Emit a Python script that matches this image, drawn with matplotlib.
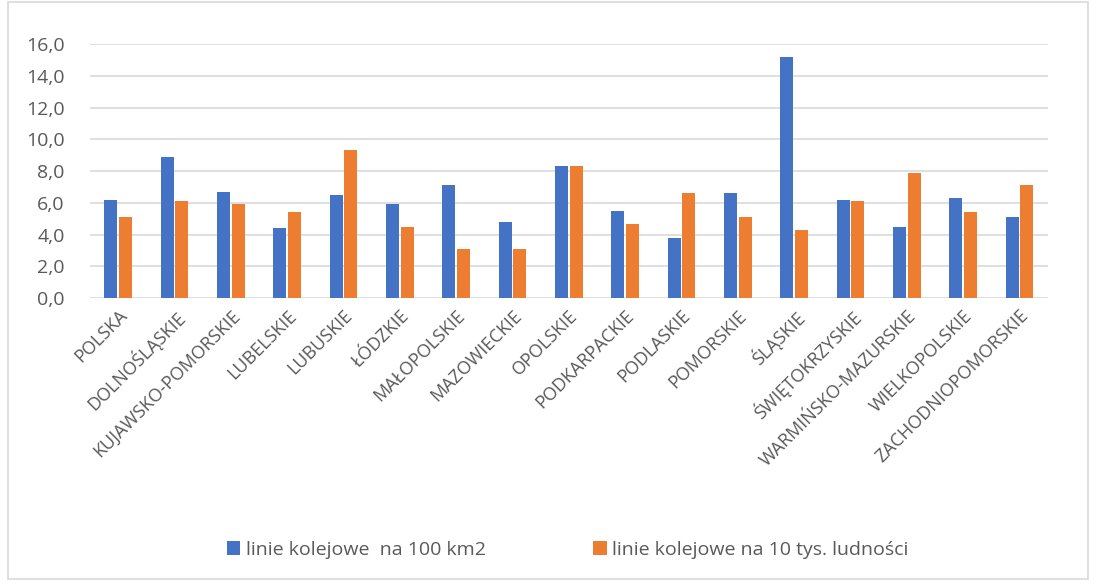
import matplotlib.pyplot as plt
import numpy as np
from matplotlib.patches import Rectangle

plt.rcParams['font.family'] = ['Open Sans', 'DejaVu Sans']

regions = ["POLSKA", "DOLNOŚLĄSKIE", "KUJAWSKO-POMORSKIE", "LUBELSKIE", "LUBUSKIE",
           "ŁÓDZKIE", "MAŁOPOLSKIE", "MAZOWIECKIE", "OPOLSKIE", "PODKARPACKIE",
           "PODLASKIE", "POMORSKIE", "ŚLĄSKIE", "ŚWIĘTOKRZYSKIE", "WARMIŃSKO-MAZURSKIE",
           "WIELKOPOLSKIE", "ZACHODNIOPOMORSKIE"]
per_area = [6.2, 8.9, 6.7, 4.4, 6.5, 5.9, 7.1, 4.8, 8.3, 5.5, 3.8, 6.6, 15.2, 6.2, 4.5, 6.3, 5.1]
per_pop = [5.1, 6.1, 5.9, 5.4, 9.3, 4.5, 3.1, 3.1, 8.3, 4.7, 6.6, 5.1, 4.3, 6.1, 7.9, 5.4, 7.1]
series_names = ["linie kolejowe  na 100 km2", "linie kolejowe na 10 tys. ludności"]

blue = "#4472C4"
orange = "#ED7D31"
text_col = "#595959"

fig = plt.figure(figsize=(10.96, 5.86), dpi=100)
ax = fig.add_axes([0.082, 0.491, 0.874, 0.434])

x = np.arange(len(regions))
w = 0.23
ax.bar(x - 0.13, per_area, w, color=blue, label=series_names[0], zorder=3)
ax.bar(x + 0.13, per_pop, w, color=orange, label=series_names[1], zorder=3)

ax.set_xlim(-0.5, len(regions) - 0.5)
ax.set_ylim(0, 16)
ax.set_yticks(np.arange(0, 17, 2))
ax.set_yticklabels([f"{v:.1f}".replace(".", ",") for v in np.arange(0, 17, 2)],
                   fontsize=14, color=text_col)
ax.set_xticks(x)
ax.set_xticklabels(regions, rotation=45, ha='right', rotation_mode='anchor',
                   fontsize=13, color=text_col)
ax.tick_params(axis='both', length=0)
ax.tick_params(axis='y', pad=18)
ax.tick_params(axis='x', pad=6)
ax.grid(axis='y', color='#d9d9d9', linewidth=1.2, zorder=0)
for s in ax.spines.values():
    s.set_visible(False)

leg = fig.legend(loc='center', bbox_to_anchor=(0.518, 0.062), ncol=2, frameon=False,
                 fontsize=14, handlelength=0.7, handleheight=0.8, handletextpad=0.3,
                 columnspacing=5.5)
for t in leg.get_texts():
    t.set_color(text_col)

fig.patches.append(Rectangle((0.007, 0.012), 0.986, 0.985, transform=fig.transFigure,
                             fill=False, edgecolor='#d9d9d9', linewidth=1.2))

fig.savefig("out.png", dpi=100)
